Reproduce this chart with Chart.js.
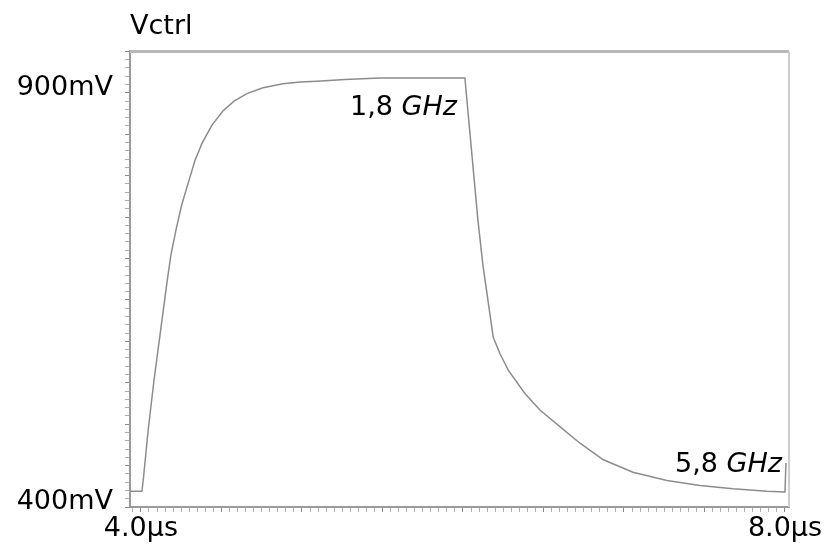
<!DOCTYPE html>
<html>
<head>
<meta charset="utf-8">
<script src="https://cdn.jsdelivr.net/npm/chart.js@4/dist/chart.umd.min.js"></script>
<style>
  html, body { margin: 0; padding: 0; background: #fff; }
</style>
</head>
<body>
<canvas id="myChart" width="824" height="548"></canvas>
<script>
// 시간 (µs) 과 제어 전압 (mV)
const timeUs = [3.932, 4.006, 4.014, 4.045, 4.081, 4.122, 4.163, 4.186, 4.217, 4.252, 4.298, 4.335, 4.379,
  4.441, 4.509, 4.578, 4.658, 4.758, 4.882, 4.988, 5.093, 5.267, 5.484, 6.012,
  6.093, 6.124, 6.188, 6.230, 6.282, 6.385, 6.478, 6.602, 6.727, 6.872,
  7.056, 7.267, 7.472, 7.677, 7.888, 8.000, 8.006];
const vctrlMv = [419, 419, 432, 493, 553, 613, 673, 704, 734, 764, 794, 818, 839,
  861, 878, 890, 899, 906, 911, 913, 914, 916, 918, 918,
  746, 692, 605, 585, 565, 537, 517, 497, 477, 457,
  442, 432, 426, 422, 419, 418, 453];

// 눈금 라벨
const xLabelValues = [4, 8];
const xLabelTexts = ['4.0µs', '8.0µs'];
const yLabelValues = [400, 900];
const yLabelTexts = ['400mV', '900mV'];

// 주파수 표시
const freqNums = ['1,8 ', '5,8 '];
const freqUnits = ['GHz', 'GHz'];
const freqAtUs = [5.963, 7.981];
const freqAtMv = [882, 451];

const FONT = 'DejaVu Sans';

function pickLabel(values, texts, v) {
  const i = values.findIndex(t => Math.abs(t - v) < 1e-6);
  return i >= 0 ? texts[i] : '';
}

// 테두리와 주파수 글자를 그리는 플러그인
const framePlugin = {
  id: 'framePlugin',
  afterDatasetsDraw(chart) {
    const { ctx, chartArea: a, scales: { x, y } } = chart;
    ctx.save();
    ctx.strokeStyle = '#b8b8b8';
    ctx.lineWidth = 3;
    ctx.beginPath();
    ctx.moveTo(a.left, a.top);
    ctx.lineTo(a.right, a.top);
    ctx.stroke();
    ctx.strokeStyle = '#cccccc';
    ctx.lineWidth = 2;
    ctx.beginPath();
    ctx.moveTo(a.right, a.top);
    ctx.lineTo(a.right, a.bottom);
    ctx.stroke();

    ctx.fillStyle = '#000';
    ctx.textBaseline = 'middle';
    ctx.textAlign = 'left';
    freqNums.forEach((num, i) => {
      const right = x.getPixelForValue(freqAtUs[i]);
      const cy = y.getPixelForValue(freqAtMv[i]);
      ctx.font = 'italic 27px "' + FONT + '"';
      const wu = ctx.measureText(freqUnits[i]).width;
      ctx.font = '27px "' + FONT + '"';
      const wn = ctx.measureText(num).width;
      ctx.fillText(num, right - wu - wn, cy);
      ctx.font = 'italic 27px "' + FONT + '"';
      ctx.fillText(freqUnits[i], right - wu, cy);
    });
    ctx.restore();
  }
};

const ctx = document.getElementById('myChart').getContext('2d');
const myChart = new Chart(ctx, {
  type: 'line',
  data: {
    datasets: [{
      data: timeUs.map((t, i) => ({ x: t, y: vctrlMv[i] })),
      borderColor: '#8c8c8c',
      borderWidth: 1.5,
      pointRadius: 0,
      tension: 0,
      fill: false
    }]
  },
  options: {
    responsive: false,
    animation: false,
    devicePixelRatio: 1,
    layout: { padding: { left: 0, right: 35, top: 0, bottom: 0 } },
    plugins: {
      legend: { display: false },
      tooltip: { enabled: false },
      title: {
        display: true,
        text: 'Vctrl',
        align: 'start',
        fullSize: false,
        color: '#000',
        font: { family: FONT, size: 27, weight: 'normal' },
        padding: { top: 11, bottom: 8 }
      }
    },
    scales: {
      x: {
        type: 'linear',
        min: 3.932,
        max: 8.025,
        afterBuildTicks: scale => {
          const ticks = [];
          for (let k = 79; k <= 160; k++) ticks.push({ value: k * 0.05 });
          scale.ticks = ticks;
        },
        afterFit: scale => {
          scale.paddingLeft = 0;
          scale.paddingRight = 0;
          scale.height = 41;
        },
        ticks: {
          autoSkip: false,
          maxRotation: 0,
          padding: 1,
          color: '#000',
          font: { family: FONT, size: 27 },
          callback: v => pickLabel(xLabelValues, xLabelTexts, v)
        },
        grid: {
          drawOnChartArea: false,
          tickLength: 5,
          tickColor: c => (Math.abs(c.tick.value * 2 - Math.round(c.tick.value * 2)) < 1e-6 ? '#888' : '#b0b0b0')
        },
        border: { color: '#9a9a9a', width: 2 }
      },
      y: {
        type: 'linear',
        min: 400,
        max: 950,
        afterBuildTicks: scale => {
          const ticks = [];
          for (let v = 400; v <= 950; v += 10) ticks.push({ value: v });
          scale.ticks = ticks;
        },
        afterFit: scale => {
          scale.width = 130;
          scale.paddingTop = 0;
          scale.paddingBottom = 0;
        },
        ticks: {
          autoSkip: false,
          padding: 12,
          labelOffset: -5,
          color: '#000',
          font: { family: FONT, size: 27 },
          callback: v => pickLabel(yLabelValues, yLabelTexts, v)
        },
        grid: {
          drawOnChartArea: false,
          tickLength: 5,
          tickColor: c => (c.tick.value % 50 === 0 ? '#888' : '#b0b0b0')
        },
        border: { color: '#9a9a9a', width: 2 }
      }
    }
  },
  plugins: [framePlugin]
});
</script>
</body>
</html>
